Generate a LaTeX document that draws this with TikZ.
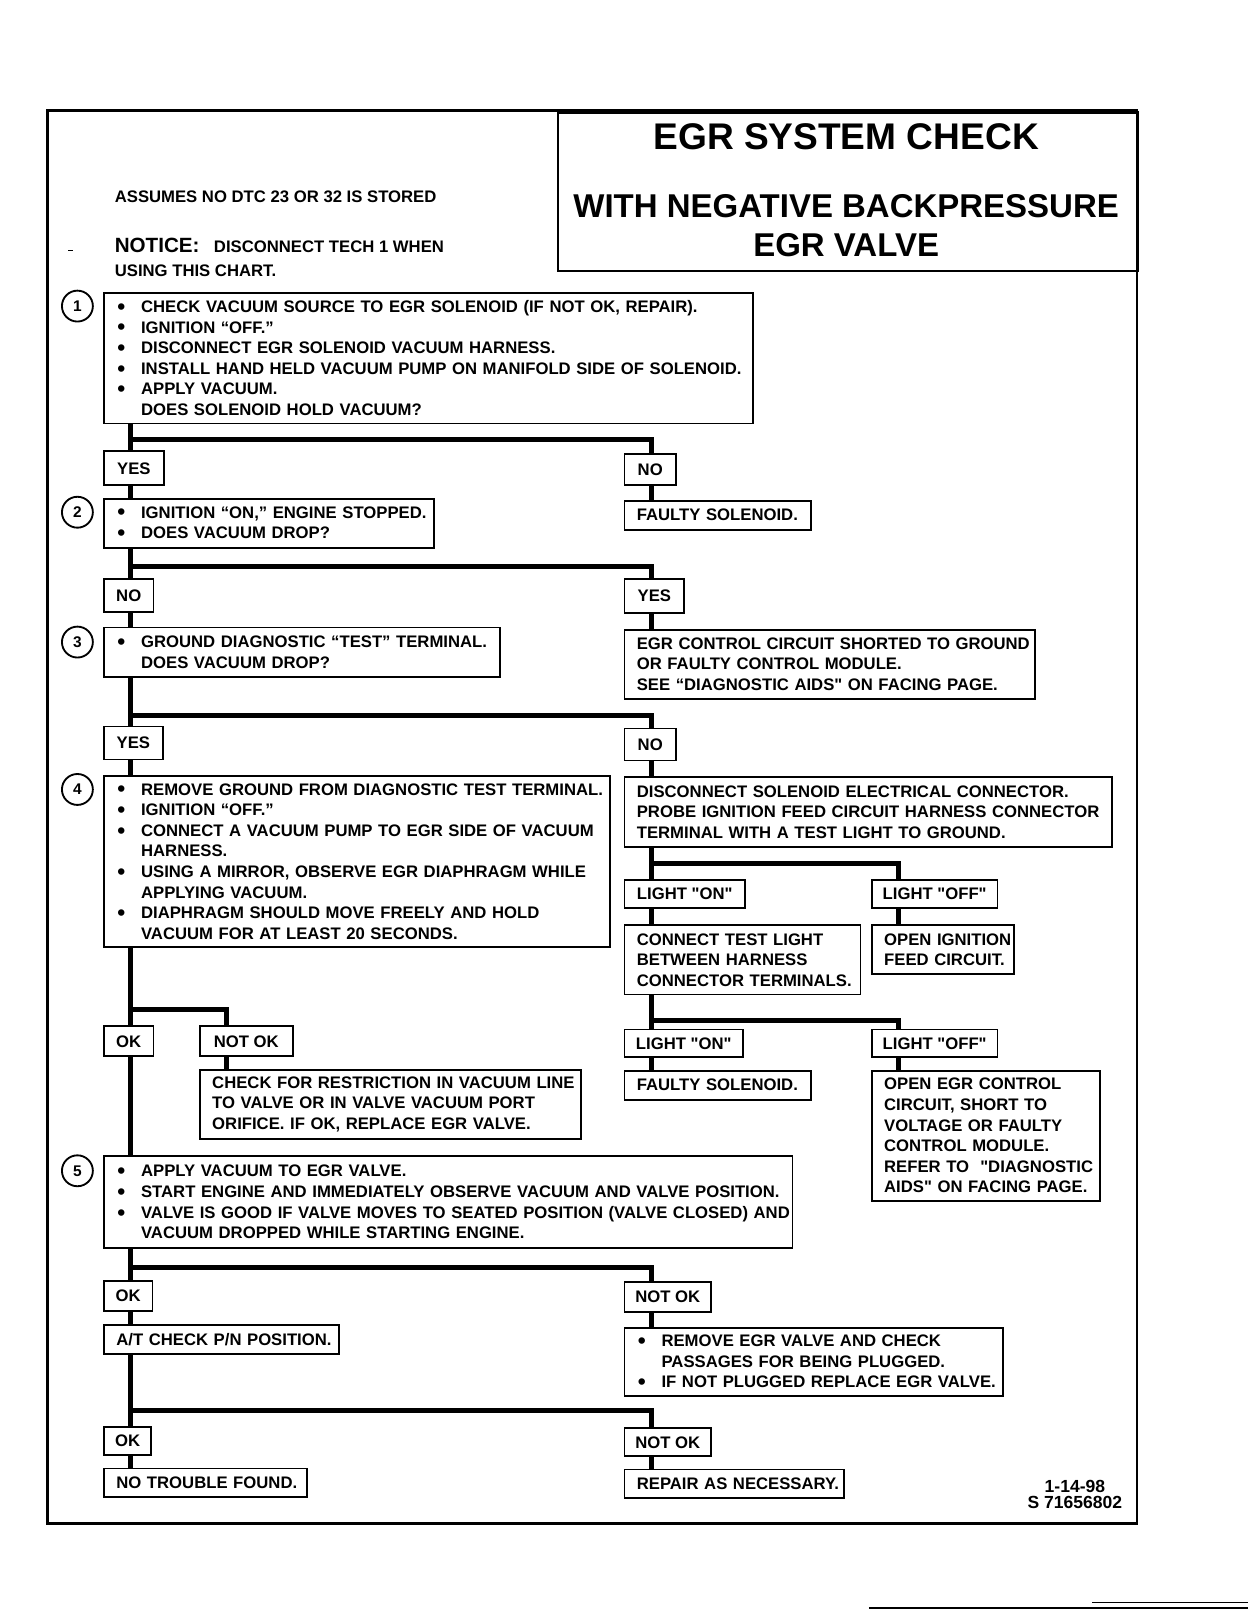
\documentclass[tikz,border=0pt]{standalone}
\usepackage{fontspec}
\setmainfont{Liberation Sans}
\usepackage{tikz}
\usetikzlibrary{positioning}
\setlength{\parindent}{0pt}
\newcommand{\bpt}[1]{\makebox[12pt][l]{\hspace{0.5pt}\raisebox{-0.9pt}{\fontsize{11}{10}\selectfont\textbullet}}\mbox{#1}}
\newcommand{\bcont}[1]{\hspace*{12pt}\mbox{#1}}
\newcommand{\qd}{\textquotedbl}

\begin{document}
\begin{tikzpicture}[
    x=0.5pt, y=-0.5pt,
    every node/.style={font=\bfseries\fontsize{8.1}{10}\selectfont},
    box/.style={draw, line width=0.9pt, fill=white, anchor=north west, align=left, inner xsep=6pt, inner ysep=3pt},
    tag/.style={draw, line width=0.9pt, fill=white, anchor=north west, inner xsep=4pt, inner ysep=0pt, minimum height=14.5pt},
    num/.style={draw, circle, line width=0.9pt, minimum size=15pt, inner sep=0pt, font=\bfseries\fontsize{7.5}{8}\selectfont},
    flow/.style={line width=2.4pt}
]

\useasboundingbox (0,0) rectangle (1211,1568);

% Frame and heading
\draw[line width=1.2pt] (46,107) rectangle (1103,1478);
\node[draw, line width=1.2pt, anchor=north west, minimum width=281.5pt, minimum height=77pt] (head) at (540,108) {};
\node[font=\bfseries\fontsize{18}{20}\selectfont] (ttl) at (821,133) {EGR SYSTEM CHECK};
\node[font=\bfseries\fontsize{16}{18.5}\selectfont, align=center] (sub) at (821,219) {WITH NEGATIVE BACKPRESSURE\\EGR VALVE};
\node[anchor=base west, inner sep=0pt] (dtc) at (111,196) {ASSUMES NO DTC 23 OR 32 IS STORED};
\node[anchor=base west, inner sep=0pt] (note) at (111,245) {{\fontsize{10}{12}\selectfont NOTICE:}\hspace{7pt}DISCONNECT TECH 1 WHEN};
\node[anchor=base west, inner sep=0pt] (chart) at (111,268) {USING THIS CHART.};
\draw[line width=0.6pt] (66,243) -- (71,243);

% Left column (steps)
\node[box, text width=303pt, minimum height=63.5pt] (step1) at (100,283) {\bpt{CHECK VACUUM SOURCE TO EGR SOLENOID (IF NOT OK, REPAIR).}\\ \bpt{IGNITION “OFF.”}\\ \bpt{DISCONNECT EGR SOLENOID VACUUM HARNESS.}\\ \bpt{INSTALL HAND HELD VACUUM PUMP ON MANIFOLD SIDE OF SOLENOID.}\\ \bpt{APPLY VACUUM.}\\ \bcont{DOES SOLENOID HOLD VACUUM?}};
\node[tag, minimum width=29pt, minimum height=16.5pt] (yes1) at (100,437) {YES};
\node[box, text width=148pt, minimum height=24pt] (step2) at (100,483) {\bpt{IGNITION “ON,” ENGINE STOPPED.}\\ \bpt{DOES VACUUM DROP?}};
\node[tag, minimum width=24pt, minimum height=16pt] (no2) at (100,561) {NO};
\node[box, text width=180pt, minimum height=24pt] (step3) at (100,608) {\bpt{GROUND DIAGNOSTIC “TEST” TERMINAL.}\\ \bcont{DOES VACUUM DROP?}};
\node[tag, minimum width=28.5pt, minimum height=16pt] (yes3) at (100,704) {YES};
\node[box, text width=233.5pt, minimum height=83pt] (step4) at (100,752) {\bpt{REMOVE GROUND FROM DIAGNOSTIC TEST TERMINAL.}\\ \bpt{IGNITION “OFF.”}\\ \bpt{CONNECT A VACUUM PUMP TO EGR SIDE OF VACUUM}\\ \bcont{HARNESS.}\\ \bpt{USING A MIRROR, OBSERVE EGR DIAPHRAGM WHILE}\\ \bcont{APPLYING VACUUM.}\\ \bpt{DIAPHRAGM SHOULD MOVE FREELY AND HOLD}\\ \bcont{VACUUM FOR AT LEAST 20 SECONDS.}};
\node[tag, minimum width=24pt] (ok4) at (100,995) {OK};
\node[tag, minimum width=45pt] (nok4) at (193,995) {NOT OK};
\node[box, text width=173pt, minimum height=33.5pt] (restr) at (193,1037) {\mbox{CHECK FOR RESTRICTION IN VACUUM LINE}\\ \mbox{TO VALVE OR IN VALVE VACUUM PORT}\\ \mbox{ORIFICE. IF OK, REPLACE EGR VALVE.}};
\node[box, text width=322pt, minimum height=44.5pt] (step5) at (100,1121) {\bpt{APPLY VACUUM TO EGR VALVE.}\\ \bpt{START ENGINE AND IMMEDIATELY OBSERVE VACUUM AND VALVE POSITION.}\\ \bpt{VALVE IS GOOD IF VALVE MOVES TO SEATED POSITION (VALVE CLOSED) AND}\\ \bcont{VACUUM DROPPED WHILE STARTING ENGINE.}};
\node[tag, minimum width=23.5pt] (ok5) at (100,1242) {OK};
\node[box, text width=102pt, minimum height=14pt] (atck) at (100,1285) {\mbox{A/T CHECK P/N POSITION.}};
\node[tag, minimum width=23pt, minimum height=13.5pt] (ok6) at (100,1384) {OK};
\node[box, text width=86.5pt, minimum height=14pt] (ntf) at (100,1424) {\mbox{NO TROUBLE FOUND.}};

% Step numbers
\node[num, left=4.5pt of step1.north west, yshift=-7pt] (n1) {1};
\node[num, left=4.5pt of step2.north west, yshift=-7pt] (n2) {2};
\node[num, left=4.5pt of step3.north west, yshift=-7.5pt] (n3) {3};
\node[num, left=4.5pt of step4.north west, yshift=-7pt] (n4) {4};
\node[num, left=4.5pt of step5.north west, yshift=-7.5pt] (n5) {5};

% Right column (results)
\node[tag, minimum width=25pt, minimum height=15pt] (no1) at (605,440) {NO};
\node[box, text width=78.5pt, minimum height=14pt] (fs1) at (605,485) {\mbox{FAULTY SOLENOID.}};
\node[tag, minimum width=29pt, minimum height=16.5pt] (yes2) at (605,561) {YES};
\node[box, text width=187pt, minimum height=33.5pt] (gnd) at (605,610) {\mbox{EGR CONTROL CIRCUIT SHORTED TO GROUND}\\ \mbox{OR FAULTY CONTROL MODULE.}\\ \mbox{SEE “DIAGNOSTIC AIDS\qd{} ON FACING PAGE.}};
\node[tag, minimum width=25pt, minimum height=15.5pt] (no3) at (605,706) {NO};
\node[box, text width=224.5pt, minimum height=34pt] (disc) at (605,753) {\mbox{DISCONNECT SOLENOID ELECTRICAL CONNECTOR.}\\ \mbox{PROBE IGNITION FEED CIRCUIT HARNESS CONNECTOR}\\ \mbox{TERMINAL WITH A TEST LIGHT TO GROUND.}};
\node[tag, minimum width=58.5pt, minimum height=13.5pt] (on1) at (605,853) {LIGHT \qd{}ON\qd};
\node[tag, minimum width=61pt, minimum height=13.5pt] (off1) at (845,853) {LIGHT \qd{}OFF\qd};
\node[box, text width=102.5pt, minimum height=33.5pt] (ctl) at (605,897) {\mbox{CONNECT TEST LIGHT}\\ \mbox{BETWEEN HARNESS}\\ \mbox{CONNECTOR TERMINALS.}};
\node[box, text width=57pt, minimum height=23.5pt] (oign) at (845,897) {\mbox{OPEN IGNITION}\\ \mbox{FEED CIRCUIT.}};
\node[tag, minimum width=57.5pt, minimum height=13.5pt] (on2) at (605,998) {LIGHT \qd{}ON\qd};
\node[tag, minimum width=61pt, minimum height=13.5pt] (off2) at (845,998) {LIGHT \qd{}OFF\qd};
\node[box, text width=78.5pt, minimum height=14pt] (fs2) at (605,1038) {\mbox{FAULTY SOLENOID.}};
\node[box, text width=98.5pt, minimum height=63pt] (oegr) at (845,1038) {\mbox{OPEN EGR CONTROL}\\ \mbox{CIRCUIT, SHORT TO}\\ \mbox{VOLTAGE OR FAULTY}\\ \mbox{CONTROL MODULE.}\\ \mbox{REFER TO\ \ \qd{}DIAGNOSTIC}\\ \mbox{AIDS\qd{} ON FACING PAGE.}};
\node[tag, minimum width=42pt] (nok5) at (605,1243) {NOT OK};
\node[box, text width=171.5pt, minimum height=33pt] (rmv) at (605,1288) {\bpt{REMOVE EGR VALVE AND CHECK}\\ \bcont{PASSAGES FOR BEING PLUGGED.}\\ \bpt{IF NOT PLUGGED REPLACE EGR VALVE.}};
\node[tag, minimum width=42pt, minimum height=13.5pt] (nok6) at (605,1385) {NOT OK};
\node[box, text width=94.5pt, minimum height=14pt] (rep) at (605,1425) {\mbox{REPAIR AS NECESSARY.}};

\node[align=center, font=\bfseries\fontsize{8.5}{8}\selectfont] (code) at (1043,1450) {1-14-98\\S 71656802};
\draw[line width=1pt] (843,1560) -- (1211,1560);
\draw[line width=0.6pt] (1060,1555) -- (1211,1555);

% Connecting lines
\draw[flow] ([xshift=13.5pt]step1.south west) -- ([xshift=13.5pt]yes1.north west);
\draw[flow] ([xshift=13.5pt,yshift=-7.5pt]step1.south west) -| ([xshift=13.5pt]no1.north west);
\draw[flow] ([xshift=13.5pt]no1.south west) -- ([xshift=13.5pt]fs1.north west);
\draw[flow] ([xshift=13.5pt]yes1.south west) -- ([xshift=13.5pt]step2.north west);
\draw[flow] ([xshift=13.5pt]step2.south west) -- ([xshift=13.5pt]no2.north west);
\draw[flow] ([xshift=13.5pt,yshift=-8.5pt]step2.south west) -| ([xshift=13.5pt]yes2.north west);
\draw[flow] ([xshift=13.5pt]yes2.south west) -- ([xshift=13.5pt]gnd.north west);
\draw[flow] ([xshift=13.5pt]no2.south west) -- ([xshift=13.5pt]step3.north west);
\draw[flow] ([xshift=13.5pt]step3.south west) -- ([xshift=13.5pt]yes3.north west);
\draw[flow] ([xshift=13.5pt,yshift=-18pt]step3.south west) -| ([xshift=13.5pt]no3.north west);
\draw[flow] ([xshift=13.5pt]yes3.south west) -- ([xshift=13.5pt]step4.north west);
\draw[flow] ([xshift=13.5pt]no3.south west) -- ([xshift=13.5pt]disc.north west);
\draw[flow] ([xshift=13.5pt]disc.south west) -- ([xshift=13.5pt]on1.north west);
\draw[flow] ([xshift=13.5pt,yshift=-7.5pt]disc.south west) -| ([xshift=13.5pt]off1.north west);
\draw[flow] ([xshift=13.5pt]on1.south west) -- ([xshift=13.5pt]ctl.north west);
\draw[flow] ([xshift=13.5pt]off1.south west) -- ([xshift=13.5pt]oign.north west);
\draw[flow] ([xshift=13.5pt]ctl.south west) -- ([xshift=13.5pt]on2.north west);
\draw[flow] ([xshift=13.5pt,yshift=-12pt]ctl.south west) -| ([xshift=13.5pt]off2.north west);
\draw[flow] ([xshift=13.5pt]on2.south west) -- ([xshift=13.5pt]fs2.north west);
\draw[flow] ([xshift=13.5pt]off2.south west) -- ([xshift=13.5pt]oegr.north west);
\draw[flow] ([xshift=13.5pt]step4.south west) -- ([xshift=13.5pt]ok4.north west);
\draw[flow] ([xshift=13.5pt,yshift=-30pt]step4.south west) -| ([xshift=13.5pt]nok4.north west);
\draw[flow] ([xshift=13.5pt]nok4.south west) -- ([xshift=13.5pt]restr.north west);
\draw[flow] ([xshift=13.5pt]ok4.south west) -- ([xshift=13.5pt]step5.north west);
\draw[flow] ([xshift=13.5pt]step5.south west) -- ([xshift=13.5pt]ok5.north west);
\draw[flow] ([xshift=13.5pt,yshift=-9pt]step5.south west) -| ([xshift=13.5pt]nok5.north west);
\draw[flow] ([xshift=13.5pt]ok5.south west) -- ([xshift=13.5pt]atck.north west);
\draw[flow] ([xshift=13.5pt]nok5.south west) -- ([xshift=13.5pt]rmv.north west);
\draw[flow] ([xshift=13.5pt]atck.south west) -- ([xshift=13.5pt]ok6.north west);
\draw[flow] ([xshift=13.5pt,yshift=-27pt]atck.south west) -| ([xshift=13.5pt]nok6.north west);
\draw[flow] ([xshift=13.5pt]ok6.south west) -- ([xshift=13.5pt]ntf.north west);
\draw[flow] ([xshift=13.5pt]nok6.south west) -- ([xshift=13.5pt]rep.north west);

\end{tikzpicture}
\end{document}
